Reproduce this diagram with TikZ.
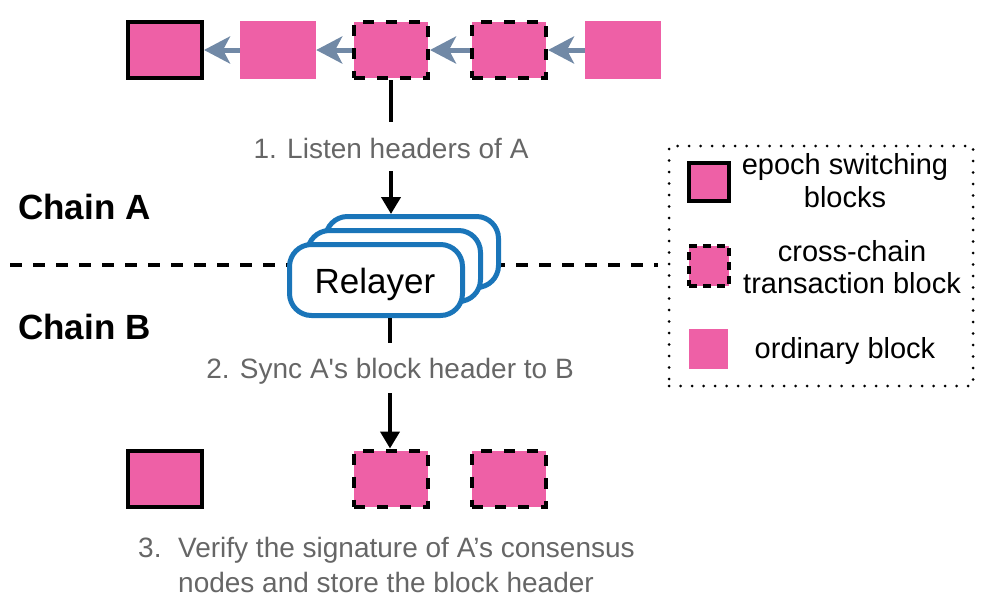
\documentclass[tikz,border=0pt]{standalone}
\usepackage{fontspec}
\setmainfont{Liberation Sans}
\newfontfamily\nomapfont{Liberation Sans}
\usetikzlibrary{arrows.meta}
\definecolor{blockpink}{HTML}{EE60A6}
\definecolor{arrowgray}{HTML}{7189A6}
\definecolor{relayblue}{HTML}{1A75B9}
\definecolor{textgray}{HTML}{666666}
\begin{document}
\begin{tikzpicture}[x=1pt,y=-1pt,
  plainblk/.style={fill=blockpink, minimum width=76pt, minimum height=58pt, inner sep=0pt},
  epochblk/.style={fill=blockpink, draw=black, line width=4pt, minimum width=74pt, minimum height=56pt, inner sep=0pt},
  crossblk/.style={epochblk, dash pattern=on 11pt off 12pt},
  chainarrow/.style={draw=arrowgray, line width=5pt, -{Stealth[length=26pt,width=27pt,inset=7pt]}},
  vline/.style={draw=black, line width=4pt},
  varrow/.style={vline, -{Triangle[length=17pt,width=19pt]}},
  steptext/.style={text=textgray, font=\fontsize{28}{33}\selectfont, inner sep=0pt, anchor=base},
  legtext/.style={text=black, font=\fontsize{29}{33}\selectfont, inner sep=0pt, anchor=base},
  chainlbl/.style={text=black, font=\fontsize{35}{40}\selectfont\bfseries, inner sep=0pt, anchor=base west},
  relaybox/.style={draw=relayblue, fill=white, line width=5pt, rounded corners=22pt, minimum width=173pt, minimum height=71pt, inner sep=0pt},
  hdash/.style={draw=black, line width=4.5pt, dash pattern=on 12pt off 11pt},
  legbox/.style={draw=black, line width=3pt, line cap=round, dash pattern=on 0pt off 11.5pt, minimum width=304pt, minimum height=240pt}
]
\useasboundingbox (0,0) rectangle (984,606);

% chain A blocks
\node[epochblk] (a1) at (165,50) {};
\node[plainblk] (a2) at (278,50) {};
\node[crossblk] (a3) at (391,50) {};
\node[crossblk] (a4) at (509,50) {};
\node[plainblk] (a5) at (623,50) {};
\draw[chainarrow] (a2.west) -- (a1.east);
\draw[chainarrow] (a3.west) -- (a2.east);
\draw[chainarrow] (a4.west) -- (a3.east);
\draw[chainarrow] (a5.west) -- (a4.east);

% chain separator
\coordinate (dl) at (10,265);
\coordinate (dr) at (658,265);
\draw[hdash] (dl) -- (dr);

% labels
\node[chainlbl] (chA) at (18,219) {Chain A};
\node[chainlbl] (chB) at (18,339) {Chain B};

% relayer stack
\node[relaybox] (relay3) at (412,252) {};
\node[relaybox] (relay2) at (394,266) {};
\node[relaybox] (relay) at (376,280) {};
\node[font=\fontsize{35}{40}\selectfont, inner sep=0pt, anchor=base] (relaytxt) at (375,293) {Relayer};

% step 1
\coordinate (s1end) at (391,122);
\draw[vline] (a3.south) -- (s1end);
\node[steptext] (t1) at (391,158) {1. Listen headers of A};
\coordinate (s1start) at (391,171);
\draw[varrow] (s1start) -- (s1start |- relay3.north);

% step 2
\coordinate (s2end) at (390,343);
\draw[vline] (s2end |- relay.south) -- (s2end);
\node[steptext] (t2) at (390,378) {2. Sync A{\nomapfont'}s block header to B};
\coordinate (s2start) at (390,393);

% chain B blocks
\node[epochblk] (b1) at (165,478.5) {};
\node[crossblk] (b2) at (391,478.5) {};
\node[crossblk] (b3) at (509,478.5) {};
\draw[varrow] (s2start) -- (s2start |- b2.north);

% step 3
\node[steptext, anchor=base west] (t3a) at (138,557) {3.};
\node[steptext, anchor=base west] (t3b) at (178,557) {Verify the signature of A’s consensus};
\node[steptext, anchor=base west] (t3c) at (178,592) {nodes and store the block header};

% legend
\node[legbox] (legend) at (821,266) {};
\node[epochblk, minimum width=40pt, minimum height=38pt] (le1) at (709,182) {};
\node[crossblk, minimum width=40pt, minimum height=40pt, dash pattern=on 8pt off 6pt] (le2) at (709,266) {};
\node[plainblk, minimum width=39pt, minimum height=40pt] (le3) at (708.5,349) {};
\node[legtext] (l1a) at (845,174) {epoch switching};
\node[legtext] (l1b) at (845,207) {blocks};
\node[legtext] (l2a) at (852,261) {cross-chain};
\node[legtext] (l2b) at (852,293) {transaction block};
\node[legtext] (l3a) at (845,358) {ordinary block};
\end{tikzpicture}
\end{document}
